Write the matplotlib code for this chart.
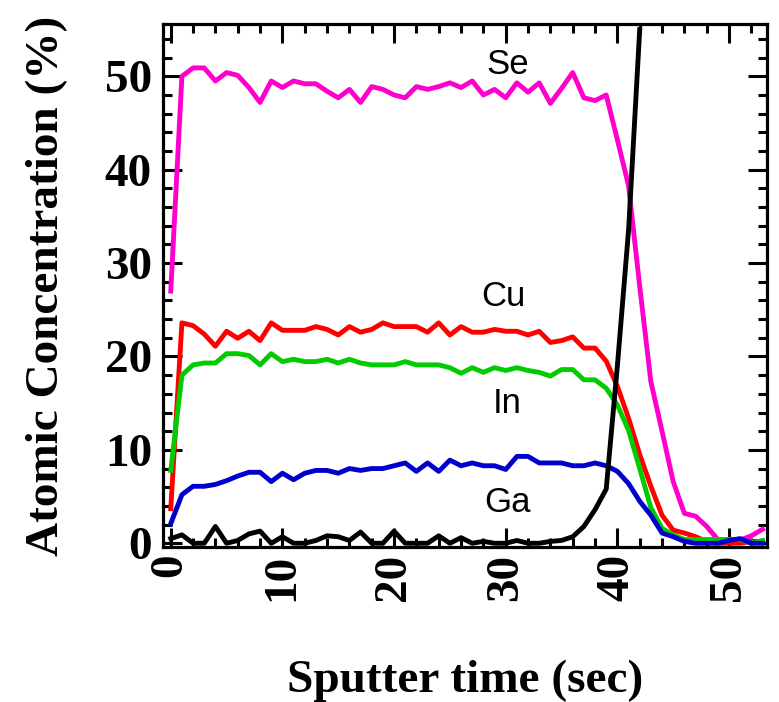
import numpy as np
import matplotlib
matplotlib.use("Agg")
import matplotlib.pyplot as plt
from matplotlib.ticker import MultipleLocator

# -----------------------------
# Depth profile data
# -----------------------------
time = np.arange(0, 54)

se = [27.0, 50.0, 50.9, 50.9, 49.5, 50.4, 50.1, 48.8, 47.2, 49.5,
      48.8, 49.5, 49.2, 49.2, 48.4, 47.7, 48.6, 47.2, 48.9, 48.6,
      48.0, 47.7, 48.9, 48.6, 48.9, 49.3, 48.8, 49.5, 48.0, 48.6,
      47.7, 49.3, 48.3, 49.3, 47.1, 48.7, 50.4, 47.7, 47.4, 48.0,
      43.2, 38.3, 27.5, 17.3, 12.0, 6.6, 3.2, 2.9, 1.8, 0.4,
      0.35, 0.35, 0.8, 1.5]

cu = [3.7, 23.6, 23.3, 22.4, 21.1, 22.7, 21.95, 22.7, 21.7, 23.6,
      22.8, 22.8, 22.8, 23.2, 22.9, 22.3, 23.2, 22.6, 22.9, 23.6,
      23.2, 23.2, 23.2, 22.6, 23.6, 22.3, 23.2, 22.6, 22.6, 22.9,
      22.7, 22.7, 22.3, 22.7, 21.5, 21.7, 22.1, 20.9, 20.9, 19.5,
      16.8, 13.4, 9.5, 6.1, 3.0, 1.4, 1.1, 0.7, 0.2, 0.0,
      0.0, 0.0, 0.2, 0.2]

in_ = [7.8, 18.0, 19.1, 19.3, 19.3, 20.3, 20.3, 20.1, 19.1, 20.3,
       19.45, 19.7, 19.45, 19.45, 19.7, 19.3, 19.7, 19.3, 19.1, 19.1,
       19.1, 19.45, 19.1, 19.1, 19.1, 18.8, 18.2, 18.8, 18.3, 18.8,
       18.5, 18.8, 18.5, 18.3, 17.9, 18.6, 18.6, 17.5, 17.5, 16.6,
       14.8, 12.1, 8.0, 3.8, 1.6, 0.9, 0.4, 0.4, 0.4, 0.4,
       0.4, 0.4, 0.0, 0.3]

ga = [2.1, 5.2, 6.1, 6.1, 6.3, 6.7, 7.2, 7.6, 7.6, 6.6,
      7.5, 6.8, 7.5, 7.8, 7.8, 7.5, 8.0, 7.8, 8.0, 8.0,
      8.3, 8.6, 7.7, 8.6, 7.7, 8.9, 8.3, 8.6, 8.3, 8.3,
      7.9, 9.3, 9.3, 8.6, 8.6, 8.6, 8.3, 8.3, 8.6, 8.3,
      7.7, 6.4, 4.5, 3.0, 1.1, 0.7, 0.2, 0.0, 0.0, 0.0,
      0.3, 0.5, 0.0, 0.0]

# substrate signal, only up to where it leaves the plot
mo = [0.5, 0.9, 0.0, 0.0, 1.8, 0.0, 0.3, 1.0, 1.3, 0.0,
      0.7, 0.0, 0.0, 0.3, 0.8, 0.7, 0.3, 1.2, 0.0, 0.0,
      1.3, 0.0, 0.0, 0.0, 0.8, 0.0, 0.6, 0.0, 0.2, 0.0,
      0.0, 0.3, 0.0, 0.0, 0.2, 0.3, 0.7, 1.8, 3.6, 5.8,
      19.0, 33.5, 55.0]

labels = ["Se", "Cu", "In", "Ga"]
label_x = [30.2, 29.8, 30.1, 30.2]
label_y = [50.2, 25.4, 13.9, 3.4]

# -----------------------------
# Plot
# -----------------------------
fig = plt.figure(figsize=(7.79, 7.02), dpi=100)
ax = fig.add_axes([0.2093, 0.2208, 0.7753, 0.745])

lw = 3.5
ax.plot(time, se, color="#FF00CC", lw=lw)
ax.plot(time, cu, color="#FF0000", lw=lw)
ax.plot(time, in_, color="#00CC00", lw=lw)
ax.plot(time, ga, color="#0000CC", lw=lw)
ax.plot(time[:len(mo)], mo, color="black", lw=lw)

for t, x, y in zip(labels, label_x, label_y):
    ax.text(x, y, t, family="Liberation Sans", fontsize=25,
            ha="center", va="baseline")

ax.set_xlim(-0.69, 53.4)
ax.set_ylim(-0.4, 55.6)

ax.xaxis.set_major_locator(MultipleLocator(10))
ax.xaxis.set_minor_locator(MultipleLocator(2))
ax.yaxis.set_major_locator(MultipleLocator(10))
ax.yaxis.set_minor_locator(MultipleLocator(2))

ax.tick_params(which="both", direction="in", top=True, right=True, width=2.2)
ax.tick_params(which="major", length=14)
ax.tick_params(which="minor", length=6.5)
ax.tick_params(axis="y", which="major", pad=8)
ax.tick_params(axis="x", which="major", pad=5)
for sp in ax.spines.values():
    sp.set_linewidth(2.3)

tick_font = dict(family="Liberation Serif", weight="bold", size=34)
for lab in ax.get_yticklabels():
    lab.set_fontproperties(tick_font)
for lab in ax.get_xticklabels():
    lab.set_fontproperties(tick_font)
    lab.set_rotation(90)

ax.set_xlabel("Sputter time (sec)", family="Liberation Serif",
              weight="bold", fontsize=34)
ax.set_ylabel("Atomic Concentration (%)", family="Liberation Serif",
              weight="bold", fontsize=34)
ax.xaxis.set_label_coords(0.5, -0.215)
ax.yaxis.set_label_coords(-0.157, 0.5)

plt.savefig("out.png", dpi=100)
